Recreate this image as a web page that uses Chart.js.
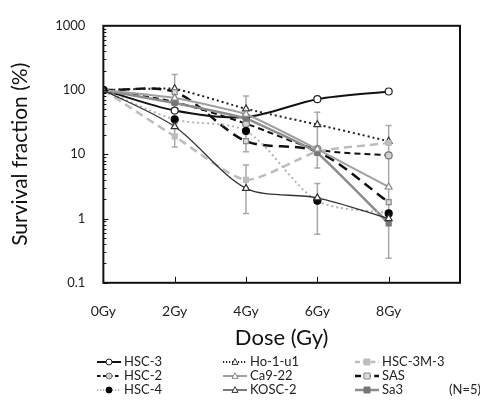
<!DOCTYPE html>
<html>
<head>
<meta charset="utf-8">
<script src="https://cdn.jsdelivr.net/npm/chart.js@4"></script>
<style>
  html, body { margin: 0; padding: 0; background: #fff; }
  #wrap { width: 480px; height: 400px; }
</style>
</head>
<body>
<div id="wrap"><canvas id="chart" width="480" height="400"></canvas></div>
<script>
// ----------------------------
// Data
// ----------------------------
const doses = [0, 2, 4, 6, 8];
const doseTicks = [0, 2, 4, 6, 8, 10];
const yTicks = [0.1, 1, 10, 100, 1000];

const hsc3   = [100, 48, 38, 72, 95];
const hsc2   = [100, 65, 30, 12, 9.6];
const hsc4   = [100, 35, 23, 1.9, 1.2];
const ho1u1  = [100, 105, 51, 29, 16];
const ca922  = [100, 75, 42, 12, 3.1];
const kosc2  = [100, 27, 2.95, 2.1, 1.0];
const hsc3m3 = [100, 19, 4.0, 11, 15];
const sas    = [100, 93, 16, 11, 1.8];
const sa3    = [100, 63, 36, 10.5, 0.84];

// error bars: dose, low, high
const errDose = [2, 2, 4, 4, 6, 6, 8];
const errLow  = [50, 13, 11, 1.2, 6.1, 0.57, 0.24];
const errHigh = [175, 30, 81, 6.8, 45, 3.5, 28];

const FONT = "Lato, 'Open Sans', sans-serif";

// ----------------------------
// Series styles
// ----------------------------
function series(label, values, style) {
  return Object.assign({
    label: label,
    data: values.map((v, i) => ({ x: doses[i], y: v })),
    borderWidth: 2,
    pointRadius: 3.5,
    pointBorderWidth: 1.2,
    tension: 0.3,
    fill: false
  }, style);
}

const datasets = [
  series("KOSC-2", kosc2, { borderColor: "#333", borderWidth: 1.3, pointStyle: "triangle", pointRadius: 4, pointBackgroundColor: "#fff", pointBorderColor: "#333" }),
  series("HSC-4", hsc4, { borderColor: "#b4b4b4", borderDash: [2, 3], pointStyle: "circle", pointBackgroundColor: "#000", pointBorderColor: "#000" }),
  series("Ca9-22", ca922, { borderColor: "#a0a0a0", tension: 0.15, pointStyle: "triangle", pointRadius: 4, pointBackgroundColor: "#fff", pointBorderColor: "#888" }),
  series("Sa3", sa3, { borderColor: "#8c8c8c", borderWidth: 2.5, tension: 0.1, pointStyle: "rect", pointBackgroundColor: "#777", pointBorderColor: "#777" }),
  series("HSC-3M-3", hsc3m3, { borderColor: "#bdbdbd", borderWidth: 2.5, borderDash: [8, 5], tension: 0.2, pointStyle: "rect", pointBackgroundColor: "#bdbdbd", pointBorderColor: "#bdbdbd" }),
  series("HSC-2", hsc2, { borderColor: "#111", borderDash: [6, 4], pointStyle: "circle", pointBackgroundColor: "#d0d0d0", pointBorderColor: "#777" }),
  series("SAS", sas, { borderColor: "#111", borderWidth: 2.5, borderDash: [10, 6], pointStyle: "rect", pointBackgroundColor: "#ddd", pointBorderColor: "#888" }),
  series("Ho-1-u1", ho1u1, { borderColor: "#222", borderDash: [2, 3], tension: 0.1, pointStyle: "triangle", pointRadius: 4, pointBackgroundColor: "#fff", pointBorderColor: "#333" }),
  series("HSC-3", hsc3, { borderColor: "#111", pointStyle: "circle", pointBackgroundColor: "#fff", pointBorderColor: "#222" })
];

// legend layout: [label, column, row]
const legendOrder = [
  ["HSC-3", 0, 0], ["HSC-2", 0, 1], ["HSC-4", 0, 2],
  ["Ho-1-u1", 1, 0], ["Ca9-22", 1, 1], ["KOSC-2", 1, 2],
  ["HSC-3M-3", 2, 0], ["SAS", 2, 1], ["Sa3", 2, 2]
];

function drawMarker(ctx, style, cx, cy, r) {
  if (style === "rect") {
    ctx.rect(cx - r, cy - r, 2 * r, 2 * r);
  } else if (style === "triangle") {
    ctx.moveTo(cx, cy - r * 1.1);
    ctx.lineTo(cx + r, cy + r * 0.8);
    ctx.lineTo(cx - r, cy + r * 0.8);
    ctx.closePath();
  } else {
    ctx.arc(cx, cy, r, 0, Math.PI * 2);
  }
}

// ----------------------------
// Extras plugin: frame, ticks, error bars, legend
// ----------------------------
const extras = {
  id: "extras",
  beforeDatasetsDraw(chart) {
    const ctx = chart.ctx, x = chart.scales.x, y = chart.scales.y;
    ctx.save();
    ctx.strokeStyle = "#a8a8a8";
    ctx.lineWidth = 1.5;
    errDose.forEach((d, i) => {
      const px = x.getPixelForValue(d);
      const y1 = y.getPixelForValue(errLow[i]);
      const y2 = y.getPixelForValue(errHigh[i]);
      ctx.beginPath();
      ctx.moveTo(px, y1); ctx.lineTo(px, y2);
      ctx.moveTo(px - 3, y1); ctx.lineTo(px + 3, y1);
      ctx.moveTo(px - 3, y2); ctx.lineTo(px + 3, y2);
      ctx.stroke();
    });
    ctx.restore();
  },
  afterDraw(chart) {
    const ctx = chart.ctx, a = chart.chartArea, x = chart.scales.x, y = chart.scales.y;
    ctx.save();
    // frame
    ctx.strokeStyle = "#111";
    ctx.lineWidth = 2;
    ctx.strokeRect(a.left, a.top, a.right - a.left, a.bottom - a.top);
    // y ticks inside (major + minor)
    ctx.lineWidth = 1;
    ctx.beginPath();
    for (let e = -1; e < 3; e++) {
      for (let k = 1; k <= 9; k++) {
        const py = Math.round(y.getPixelForValue(k * Math.pow(10, e))) + 0.5;
        const len = k === 1 ? 5 : 3;
        ctx.moveTo(a.left, py); ctx.lineTo(a.left + len, py);
      }
    }
    // x ticks inside
    doses.slice(1).forEach(d => {
      const px = Math.round(x.getPixelForValue(d)) + 0.5;
      ctx.moveTo(px, a.bottom); ctx.lineTo(px, a.bottom - 6);
    });
    ctx.stroke();

    // legend
    const colX = [97, 223, 355];
    const rowY = [362, 376, 390];
    ctx.font = "13px " + FONT;
    ctx.textBaseline = "middle";
    legendOrder.forEach(([label, c, r]) => {
      const ds = datasets.find(d => d.label === label);
      const x0 = colX[c], yy = rowY[r], x1 = x0 + 24;
      ctx.save();
      ctx.strokeStyle = ds.borderColor;
      ctx.lineWidth = ds.borderWidth;
      ctx.setLineDash(ds.borderDash ? ds.borderDash.map(v => v * 0.6) : []);
      ctx.beginPath(); ctx.moveTo(x0, yy); ctx.lineTo(x1, yy); ctx.stroke();
      ctx.setLineDash([]);
      ctx.lineWidth = 1;
      ctx.fillStyle = ds.pointBackgroundColor;
      ctx.strokeStyle = ds.pointBorderColor;
      ctx.beginPath();
      drawMarker(ctx, ds.pointStyle, (x0 + x1) / 2, yy, 3);
      ctx.fill(); ctx.stroke();
      ctx.restore();
      ctx.fillStyle = "#222";
      ctx.fillText(label, x1 + 3, yy);
    });
    ctx.fillStyle = "#222";
    ctx.fillText("(N=5)", 449, rowY[2]);
    ctx.restore();
  }
};

// ----------------------------
// Chart
// ----------------------------
new Chart(document.getElementById("chart").getContext("2d"), {
  type: "line",
  data: { datasets: datasets },
  options: {
    responsive: false,
    animation: false,
    layout: { padding: { left: 8, right: 8, top: 14, bottom: 49 } },
    plugins: { legend: { display: false }, tooltip: { enabled: false } },
    scales: {
      x: {
        type: "linear",
        min: 0, max: 10,
        afterBuildTicks: s => { s.ticks = doseTicks.map(v => ({ value: v })); },
        grid: { display: false, drawTicks: false },
        border: { display: false },
        ticks: {
          padding: 20,
          color: "#222",
          font: { family: FONT, size: 14 },
          callback: v => (v <= 8 ? v + "Gy" : "")
        },
        title: { display: true, text: "Dose (Gy)", color: "#111", font: { family: FONT, size: 22 }, padding: { top: -15, bottom: 0 } }
      },
      y: {
        type: "logarithmic",
        min: 0.1, max: 1000,
        afterBuildTicks: s => { s.ticks = yTicks.map(v => ({ value: v })); },
        grid: { display: false, drawTicks: false },
        border: { display: false },
        ticks: {
          padding: 18,
          color: "#222",
          font: { family: FONT, size: 13 },
          callback: v => String(v)
        },
        title: { display: true, text: "Survival fraction (%)", color: "#111", font: { family: FONT, size: 21 }, padding: { top: 0, bottom: 4 } }
      }
    }
  },
  plugins: [extras]
});
</script>
</body>
</html>
